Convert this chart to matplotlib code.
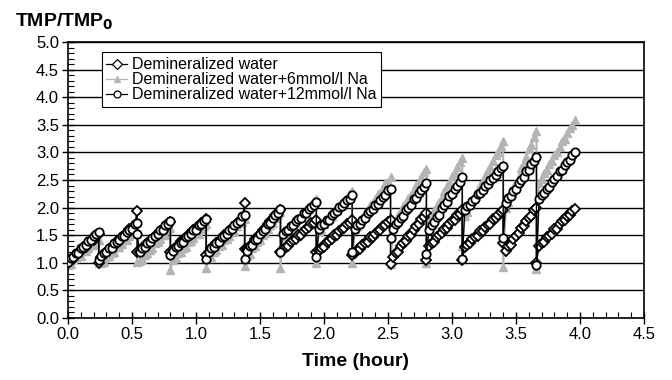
import matplotlib.pyplot as plt
from matplotlib.ticker import MultipleLocator, FormatStrFormatter

plt.rcParams['font.family'] = ['Liberation Sans', 'DejaVu Sans']

# sampling times (hour), one filtration cycle per line;
# the repeated time at the end of a line is the backwash drop
time_h = [0.00, 0.02, 0.04, 0.06, 0.08, 0.10, 0.12, 0.14, 0.16, 0.18, 0.20, 0.22, 0.24, 0.24,
          0.26, 0.28, 0.30, 0.32, 0.34, 0.36, 0.38, 0.40, 0.42, 0.44, 0.46, 0.48, 0.50, 0.52, 0.54, 0.54,
          0.56, 0.58, 0.60, 0.62, 0.64, 0.66, 0.68, 0.70, 0.72, 0.74, 0.76, 0.78, 0.80, 0.80,
          0.82, 0.84, 0.86, 0.88, 0.90, 0.92, 0.94, 0.96, 0.98, 1.00, 1.02, 1.04, 1.06, 1.08, 1.08,
          1.10, 1.12, 1.14, 1.16, 1.18, 1.20, 1.22, 1.24, 1.26, 1.28, 1.30, 1.32, 1.34, 1.36, 1.38, 1.38,
          1.40, 1.42, 1.44, 1.46, 1.48, 1.50, 1.52, 1.54, 1.56, 1.58, 1.60, 1.62, 1.64, 1.66, 1.66,
          1.68, 1.70, 1.72, 1.74, 1.76, 1.78, 1.80, 1.82, 1.84, 1.86, 1.88, 1.90, 1.92, 1.94, 1.94,
          1.96, 1.98, 2.00, 2.02, 2.04, 2.06, 2.08, 2.10, 2.12, 2.14, 2.16, 2.18, 2.20, 2.22, 2.22,
          2.24, 2.26, 2.28, 2.30, 2.32, 2.34, 2.36, 2.38, 2.40, 2.42, 2.44, 2.46, 2.48, 2.50, 2.52, 2.52,
          2.54, 2.56, 2.58, 2.60, 2.62, 2.64, 2.66, 2.68, 2.70, 2.72, 2.74, 2.76, 2.78, 2.80, 2.80,
          2.82, 2.84, 2.86, 2.88, 2.90, 2.92, 2.94, 2.96, 2.98, 3.00, 3.02, 3.04, 3.06, 3.08, 3.08,
          3.10, 3.12, 3.14, 3.16, 3.18, 3.20, 3.22, 3.24, 3.26, 3.28, 3.30, 3.32, 3.34, 3.36, 3.38, 3.40, 3.40,
          3.42, 3.44, 3.46, 3.48, 3.50, 3.52, 3.54, 3.56, 3.58, 3.60, 3.62, 3.64, 3.66, 3.66,
          3.68, 3.70, 3.72, 3.74, 3.76, 3.78, 3.80, 3.82, 3.84, 3.86, 3.88, 3.90, 3.92, 3.94, 3.96]

water = [1.00, 1.05, 1.07, 1.15, 1.17, 1.21, 1.28, 1.28, 1.36, 1.40, 1.41, 1.50, 1.52, 1.00,
         1.10, 1.16, 1.17, 1.25, 1.28, 1.31, 1.39, 1.39, 1.47, 1.51, 1.53, 1.61, 1.63, 1.68, 1.93, 1.20,
         1.20, 1.26, 1.27, 1.36, 1.38, 1.42, 1.49, 1.50, 1.57, 1.62, 1.63, 1.72, 1.74, 1.20,
         1.24, 1.29, 1.31, 1.39, 1.41, 1.44, 1.51, 1.52, 1.59, 1.63, 1.64, 1.73, 1.74, 1.79, 1.15,
         1.20, 1.26, 1.27, 1.36, 1.39, 1.42, 1.50, 1.50, 1.58, 1.63, 1.64, 1.73, 1.74, 1.80, 2.08, 1.25,
         1.25, 1.31, 1.34, 1.43, 1.47, 1.51, 1.60, 1.61, 1.70, 1.75, 1.78, 1.87, 1.90, 1.96, 1.20,
         1.24, 1.29, 1.30, 1.38, 1.41, 1.44, 1.51, 1.51, 1.58, 1.62, 1.64, 1.72, 1.73, 1.78, 1.20,
         1.22, 1.27, 1.29, 1.37, 1.39, 1.43, 1.50, 1.50, 1.57, 1.62, 1.63, 1.71, 1.73, 1.78, 1.15,
         1.18, 1.23, 1.25, 1.33, 1.35, 1.38, 1.46, 1.46, 1.53, 1.58, 1.59, 1.67, 1.68, 1.74, 1.78, 0.97,
         1.10, 1.17, 1.20, 1.31, 1.35, 1.40, 1.49, 1.51, 1.60, 1.66, 1.70, 1.80, 1.83, 1.90, 1.05,
         1.30, 1.36, 1.38, 1.47, 1.50, 1.54, 1.62, 1.63, 1.71, 1.76, 1.78, 1.87, 1.89, 1.95, 1.05,
         1.28, 1.33, 1.35, 1.43, 1.46, 1.49, 1.57, 1.57, 1.65, 1.69, 1.71, 1.79, 1.81, 1.86, 1.92, 1.95, 1.35,
         1.22, 1.30, 1.33, 1.44, 1.48, 1.54, 1.63, 1.66, 1.75, 1.82, 1.85, 1.96, 2.00, 1.00,
         1.30, 1.36, 1.38, 1.47, 1.49, 1.53, 1.61, 1.62, 1.70, 1.75, 1.77, 1.85, 1.87, 1.93, 1.98]

na6 = [0.96, 0.98, 1.06, 1.08, 1.12, 1.13, 1.21, 1.22, 1.27, 1.33, 1.32, 1.39, 1.42, 1.00,
       1.00, 1.02, 1.11, 1.13, 1.18, 1.19, 1.28, 1.29, 1.34, 1.41, 1.41, 1.48, 1.53, 1.55, 1.60, 1.02,
       1.03, 1.06, 1.15, 1.18, 1.24, 1.26, 1.35, 1.37, 1.43, 1.50, 1.51, 1.59, 1.63, 0.87,
       1.05, 1.08, 1.17, 1.20, 1.26, 1.28, 1.37, 1.39, 1.45, 1.52, 1.53, 1.61, 1.67, 1.70, 0.90,
       1.08, 1.11, 1.20, 1.23, 1.30, 1.32, 1.41, 1.43, 1.49, 1.56, 1.57, 1.66, 1.72, 1.74, 1.80, 0.95,
       1.12, 1.16, 1.26, 1.31, 1.38, 1.41, 1.51, 1.54, 1.61, 1.69, 1.72, 1.81, 1.88, 1.92, 0.90,
       1.48, 1.51, 1.60, 1.64, 1.70, 1.72, 1.81, 1.83, 1.89, 1.96, 1.98, 2.06, 2.12, 2.15, 1.00,
       1.58, 1.62, 1.71, 1.75, 1.81, 1.84, 1.93, 1.96, 2.02, 2.10, 2.11, 2.20, 2.27, 2.30, 1.00,
       1.62, 1.67, 1.77, 1.82, 1.90, 1.93, 2.04, 2.08, 2.15, 2.24, 2.26, 2.36, 2.44, 2.47, 2.55, 0.97,
       1.70, 1.76, 1.87, 1.93, 2.02, 2.07, 2.18, 2.23, 2.32, 2.41, 2.45, 2.56, 2.64, 2.70, 1.00,
       1.75, 1.82, 1.95, 2.02, 2.11, 2.17, 2.30, 2.36, 2.46, 2.57, 2.62, 2.73, 2.83, 2.90, 1.30,
       1.85, 1.92, 2.05, 2.12, 2.22, 2.28, 2.41, 2.47, 2.57, 2.68, 2.73, 2.85, 2.95, 3.01, 3.11, 3.20, 0.92,
       2.00, 2.10, 2.25, 2.35, 2.47, 2.56, 2.71, 2.80, 2.92, 3.06, 3.13, 3.28, 3.38, 0.88,
       2.45, 2.51, 2.63, 2.69, 2.79, 2.84, 2.96, 3.01, 3.10, 3.20, 3.24, 3.36, 3.45, 3.50, 3.59]

na12 = [1.02, 1.08, 1.10, 1.17, 1.18, 1.27, 1.29, 1.33, 1.40, 1.41, 1.48, 1.52, 1.56, 1.05,
        1.12, 1.18, 1.20, 1.26, 1.27, 1.35, 1.38, 1.41, 1.48, 1.49, 1.56, 1.59, 1.62, 1.70, 1.72, 1.52,
        1.20, 1.27, 1.28, 1.35, 1.37, 1.45, 1.48, 1.52, 1.59, 1.60, 1.68, 1.71, 1.76, 1.15,
        1.22, 1.28, 1.30, 1.36, 1.38, 1.46, 1.49, 1.52, 1.60, 1.60, 1.68, 1.71, 1.75, 1.80, 1.06,
        1.20, 1.27, 1.29, 1.35, 1.37, 1.46, 1.49, 1.53, 1.60, 1.61, 1.69, 1.73, 1.76, 1.84, 1.87, 1.06,
        1.22, 1.30, 1.33, 1.41, 1.43, 1.53, 1.57, 1.62, 1.71, 1.73, 1.82, 1.86, 1.91, 1.98, 1.20,
        1.52, 1.58, 1.60, 1.66, 1.68, 1.76, 1.79, 1.82, 1.90, 1.90, 1.98, 2.01, 2.05, 2.10, 1.11,
        1.62, 1.69, 1.70, 1.77, 1.78, 1.87, 1.90, 1.93, 2.01, 2.02, 2.09, 2.13, 2.16, 2.22, 1.20,
        1.62, 1.69, 1.71, 1.78, 1.81, 1.90, 1.93, 1.97, 2.05, 2.06, 2.14, 2.19, 2.23, 2.31, 2.34, 1.45,
        1.62, 1.70, 1.74, 1.82, 1.85, 1.96, 2.00, 2.05, 2.15, 2.17, 2.26, 2.31, 2.37, 2.44, 1.16,
        1.60, 1.69, 1.74, 1.83, 1.87, 1.99, 2.04, 2.10, 2.21, 2.24, 2.34, 2.40, 2.47, 2.55, 1.07,
        1.95, 2.02, 2.05, 2.12, 2.15, 2.24, 2.27, 2.32, 2.40, 2.42, 2.50, 2.54, 2.59, 2.67, 2.71, 2.76, 1.45,
        2.08, 2.17, 2.21, 2.30, 2.34, 2.45, 2.50, 2.56, 2.66, 2.69, 2.79, 2.85, 2.92, 0.96,
        2.15, 2.23, 2.26, 2.34, 2.37, 2.47, 2.51, 2.57, 2.66, 2.68, 2.77, 2.82, 2.87, 2.96, 3.00]

labels = ['Demineralized water', 'Demineralized water+6mmol/l Na',
          'Demineralized water+12mmol/l Na']

fig = plt.figure(figsize=(6.72, 3.80), dpi=100)
ax = fig.add_axes([68 / 672, 62 / 380, 576 / 672, 276 / 380])

ax.plot(time_h, na6, color='#b4b4b4', lw=1.5, marker='^', ms=6,
        mfc='#b4b4b4', mec='#b4b4b4', label=labels[1], zorder=2)
ax.plot(time_h, water, color='black', lw=1.0, marker='D', ms=5,
        mfc='white', mec='black', mew=1.3, label=labels[0], zorder=3)
ax.plot(time_h, na12, color='black', lw=1.0, marker='o', ms=6,
        mfc='white', mec='black', mew=1.3, label=labels[2], zorder=4)

ax.set_xlim(0, 4.5)
ax.set_ylim(0, 5.0)
ax.xaxis.set_major_locator(MultipleLocator(0.5))
ax.xaxis.set_minor_locator(MultipleLocator(0.1))
ax.yaxis.set_major_locator(MultipleLocator(0.5))
ax.yaxis.set_minor_locator(MultipleLocator(0.1))
ax.xaxis.set_major_formatter(FormatStrFormatter('%.1f'))
ax.yaxis.set_major_formatter(FormatStrFormatter('%.1f'))
ax.tick_params(which='major', direction='inout', length=9, width=1.0,
               labelsize=12, pad=2)
ax.tick_params(which='minor', direction='in', length=4, width=0.8)
ax.grid(axis='y', which='major', color='black', lw=1.0)
ax.set_axisbelow(True)
for s in ax.spines.values():
    s.set_linewidth(1.2)

ax.set_xlabel('Time (hour)', fontsize=14, fontweight='bold', labelpad=8)
fig.text(15 / 672, 1 - 22 / 380, r'TMP/TMP$_\mathbf{0}$', fontsize=14,
         fontweight='bold', va='center', ha='left')

h, l = ax.get_legend_handles_labels()
order = [1, 0, 2]
leg = ax.legend([h[i] for i in order], [l[i] for i in order],
                loc='upper left', bbox_to_anchor=(0.0585, 0.962),
                borderaxespad=0, fontsize=11.5, handlelength=1.3,
                handletextpad=0.3, labelspacing=0.0, borderpad=0.3,
                fancybox=False, framealpha=1, edgecolor='black')
leg.get_frame().set_linewidth(0.8)
for lh in leg.legend_handles:
    lh.set_markersize(5)
    lh.set_markeredgewidth(0.9)
    lh.set_linewidth(0.9)

fig.savefig('out.png', dpi=100)
